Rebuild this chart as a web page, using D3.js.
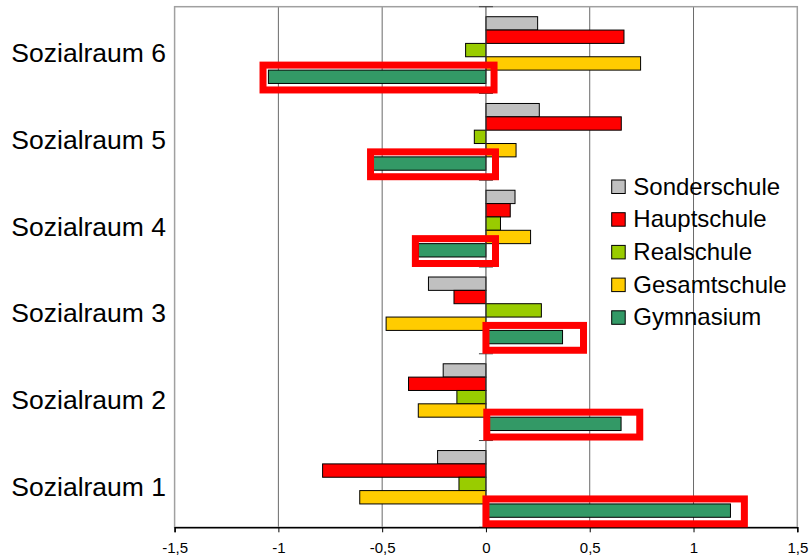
<!DOCTYPE html>
<html>
<head>
<meta charset="utf-8">
<script src="https://cdn.jsdelivr.net/npm/d3@7"></script>
<style>
  html, body { margin: 0; padding: 0; background: #fff; }
  svg { display: block; font-family: "Liberation Sans", Arial, sans-serif; }
</style>
</head>
<body>
<svg id="chart" width="809" height="560"></svg>
<script>
// Sozialräume, listed bottom to top
const categories = ["Sozialraum 1", "Sozialraum 2", "Sozialraum 3", "Sozialraum 4", "Sozialraum 5", "Sozialraum 6"];

// School types (drawn top to bottom inside each group)
const seriesNames = ["Sonderschule", "Hauptschule", "Realschule", "Gesamtschule", "Gymnasium"];
const seriesColors = ["#C0C0C0", "#FF0000", "#99CC00", "#FFCC00", "#339966"];

// Values per Sozialraum 1..6
const sonderschule = [-0.233, -0.206, -0.277, 0.140, 0.257, 0.249];
const hauptschule  = [-0.787, -0.373, -0.154, 0.117, 0.652, 0.665];
const realschule   = [-0.130, -0.140, 0.267, 0.070, -0.056, -0.098];
const gesamtschule = [-0.608, -0.326, -0.481, 0.215, 0.145, 0.745];
const gymnasium    = [1.178, 0.651, 0.369, -0.325, -0.542, -1.048];

// Marked value ranges around the Gymnasium bars, per Sozialraum 1..6
const markRanges = [[0, 1.245], [0.004, 0.741], [0, 0.470], [-0.340, 0.046], [-0.556, 0.046], [-1.074, 0.039]];

const xTicks = [-1.5, -1, -0.5, 0, 0.5, 1, 1.5];

const seriesValues = [sonderschule, hauptschule, realschule, gesamtschule, gymnasium];

const svg = d3.select("#chart");
const plot = { left: 174.6, right: 797.3, top: 6.7, bottom: 527.3 };

const x = d3.scaleLinear().domain([-1.5, 1.5]).range([plot.left, plot.right]);
const y = d3.scaleBand().domain(categories.slice().reverse()).range([plot.top, plot.bottom]).paddingInner(0).paddingOuter(0);
const ySub = d3.scaleBand().domain(seriesNames).range([0, y.bandwidth()]).paddingInner(0).paddingOuter(0.75);

const fmt = d => String(d).replace(".", ",");

// Vertical gridlines
svg.append("g")
  .selectAll("line")
  .data(xTicks.filter(t => t !== 0 && t !== -1.5 && t !== 1.5))
  .join("line")
  .attr("x1", d => x(d)).attr("x2", d => x(d))
  .attr("y1", plot.top).attr("y2", plot.bottom)
  .attr("stroke", "#6a6a6a").attr("stroke-width", 1);

// Plot frame
svg.append("rect")
  .attr("x", plot.left).attr("y", plot.top)
  .attr("width", plot.right - plot.left).attr("height", plot.bottom - plot.top)
  .attr("fill", "none").attr("stroke", "#a0a0a0").attr("stroke-width", 1.5);

// Bars
const groups = svg.append("g")
  .selectAll("g")
  .data(categories)
  .join("g")
  .attr("transform", c => `translate(0,${y(c)})`);

groups.selectAll("rect")
  .data((c, ci) => seriesNames.map((s, si) => ({ s, v: seriesValues[si][ci], color: seriesColors[si] })))
  .join("rect")
  .attr("x", d => x(Math.min(0, d.v)))
  .attr("width", d => Math.abs(x(d.v) - x(0)))
  .attr("y", d => ySub(d.s))
  .attr("height", ySub.bandwidth())
  .attr("fill", d => d.color)
  .attr("stroke", "#000").attr("stroke-width", 1);

// Category axis at zero
const zeroAxis = svg.append("g").attr("transform", `translate(${x(0)},0)`);
zeroAxis.append("line")
  .attr("y1", plot.top).attr("y2", plot.bottom)
  .attr("stroke", "#404040").attr("stroke-width", 1);
const boundaries = categories.slice().reverse().map(c => y(c)).concat([y.range()[1]]);
zeroAxis.selectAll("line.tick")
  .data(boundaries)
  .join("line")
  .attr("class", "tick")
  .attr("x1", -7).attr("x2", 7)
  .attr("y1", d => d).attr("y2", d => d)
  .attr("stroke", "#404040").attr("stroke-width", 1);

// Category labels
svg.append("g")
  .selectAll("text")
  .data(categories)
  .join("text")
  .attr("x", 166)
  .attr("y", c => y(c) + y.bandwidth() / 2 + 12)
  .attr("text-anchor", "end")
  .attr("font-size", 26.5)
  .attr("fill", "#000")
  .text(c => c);

// Value axis at the bottom
const xAxis = d3.axisBottom(x).tickValues(xTicks).tickFormat(fmt).tickSize(5).tickPadding(10);
const gx = svg.append("g").attr("transform", `translate(0,${plot.bottom})`).call(xAxis);
gx.select(".domain").attr("stroke", "#000").attr("stroke-width", 1.5);
gx.selectAll(".tick line").attr("stroke", "#000");
gx.selectAll(".tick text")
  .attr("font-family", "'Liberation Sans', Arial, sans-serif")
  .attr("font-size", 15).attr("fill", "#000");

// Red marks around the Gymnasium bars
svg.append("g")
  .selectAll("rect")
  .data(categories)
  .join("rect")
  .attr("x", (c, i) => x(markRanges[i][0]))
  .attr("width", (c, i) => x(markRanges[i][1]) - x(markRanges[i][0]))
  .attr("y", c => y(c) + ySub("Gymnasium") - 5)
  .attr("height", ySub.bandwidth() + 11.5)
  .attr("fill", "none")
  .attr("stroke", "#FF0000").attr("stroke-width", 7);

// Legend
const legend = svg.append("g").attr("transform", "translate(611.7,186.5)");
const item = legend.selectAll("g")
  .data(seriesNames)
  .join("g")
  .attr("transform", (d, i) => `translate(0,${i * 32.7})`);
item.append("rect")
  .attr("x", 0).attr("y", -6.5).attr("width", 13.5).attr("height", 13.5)
  .attr("fill", (d, i) => seriesColors[i])
  .attr("stroke", "#000").attr("stroke-width", 1);
item.append("text")
  .attr("x", 21.6).attr("y", 8)
  .attr("font-size", 24)
  .attr("fill", "#000")
  .text(d => d);
</script>
</body>
</html>
